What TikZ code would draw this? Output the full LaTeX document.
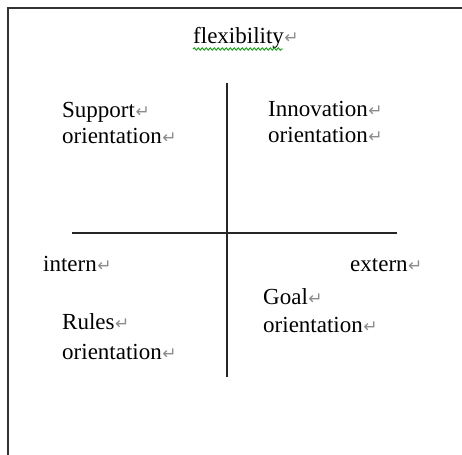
\documentclass[tikz,border=0pt]{standalone}
\usepackage{fontspec}
\setmainfont{Liberation Serif}
\newfontfamily\dejavu{DejaVu Sans}
\usetikzlibrary{decorations.pathmorphing}
\newcommand{\pmark}{{\color{black!45}\dejavu\fontsize{17}{17}\selectfont\kern0.5pt↵}}
\tikzset{
  lbl/.style={anchor=base west, inner sep=0pt, font=\fontsize{23}{28}\selectfont, text=black},
  axisline/.style={line width=1.8pt, draw=black!85},
  frameline/.style={line width=2.2pt, draw=black!80, line join=miter}
}
\begin{document}
\begin{tikzpicture}[x=1pt,y=1pt]
\useasboundingbox (0,0) rectangle (462,454);
\fill[white] (0,0) rectangle (462,454);
% frame
\coordinate (fa) at (8,-10);
\coordinate (fb) at (8,446);
\coordinate (fc) at (475,446);
\draw[frameline] (fa) -- (fb) -- (fc);
% axes
\coordinate (vt) at (227,371);
\coordinate (vb) at (227,77);
\coordinate (hl) at (72,221);
\coordinate (hr) at (397,221);
\draw[axisline] (vt) -- (vb);
\draw[axisline] (hl) -- (hr);
% labels
\node[lbl] (flex) at (193,410) {flexibility\pmark};
\draw[green!60!black, line width=0.8pt, decorate, decoration={snake, amplitude=1.2pt, segment length=4pt}] ([yshift=-5pt]flex.base west) -- ([xshift=90pt,yshift=-5pt]flex.base west);
\node[lbl] (sup1) at (62,336) {Support\pmark};
\node[lbl] (sup2) at (62,310) {orientation\pmark};
\node[lbl] (inn1) at (268,337) {Innovation\pmark};
\node[lbl] (inn2) at (268,311) {orientation\pmark};
\node[lbl] (intern) at (43,182) {intern\pmark};
\node[lbl] (extern) at (350,182) {extern\pmark};
\node[lbl] (goal1) at (263,149) {Goal\pmark};
\node[lbl] (goal2) at (263,121) {orientation\pmark};
\node[lbl] (rul1) at (62,124) {Rules\pmark};
\node[lbl] (rul2) at (62,94) {orientation\pmark};
\end{tikzpicture}
\end{document}
